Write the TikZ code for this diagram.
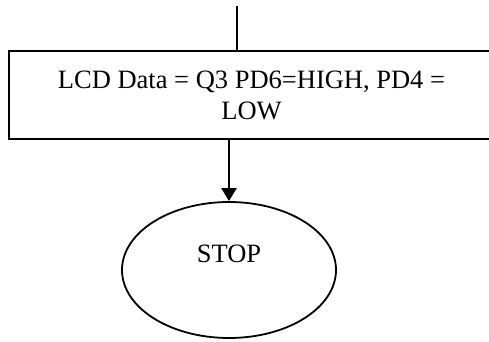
\documentclass[tikz,border=0pt]{standalone}
\usepackage{fontspec}
\setmainfont{Liberation Serif}
\usetikzlibrary{arrows.meta,shapes.geometric}
\begin{document}
\begin{tikzpicture}[x=1pt,y=-1pt,
  procbox/.style={draw,line width=1.6pt,minimum width=485pt,minimum height=88pt,inner sep=0pt,align=center,font=\fontsize{26.5}{31}\selectfont},
  term/.style={draw,ellipse,line width=1.8pt,minimum width=214pt,minimum height=136pt,inner sep=0pt},
  flow/.style={line width=1.6pt},
  arr/.style={line width=2.2pt,-{Triangle[length=13pt,width=15pt]}}]
\useasboundingbox (0,0) rectangle (489,342);
\clip (0,0) rectangle (489,342);
\node[procbox] (box) at (251.5,95) {LCD Data = Q3 PD6=HIGH, PD4 =\\LOW};
\node[term,label={[anchor=base,yshift=16pt,font=\fontsize{26.5}{31}\selectfont]center:STOP}] (stop) at (229,270) {};
\coordinate (top) at (237,6);
\draw[flow] (top) -- (top |- box.north);
\draw[arr] (stop.north |- box.south) -- (stop.north);
\end{tikzpicture}
\end{document}
